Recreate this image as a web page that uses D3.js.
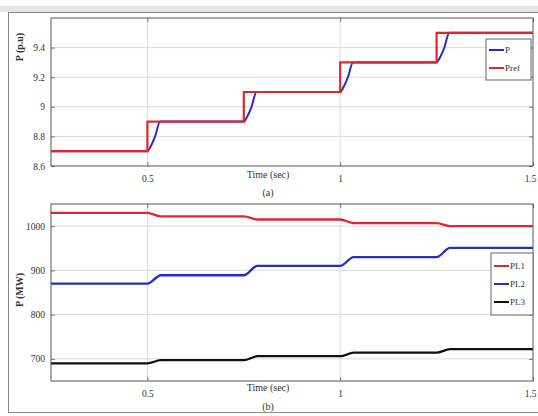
<!DOCTYPE html>
<html><head><meta charset="utf-8">
<script src="https://cdn.jsdelivr.net/npm/d3@7"></script>
<style>body{margin:0;background:#fff}svg{display:block}text{font-family:"Liberation Serif","DejaVu Serif",serif;fill:#333}</style>
</head><body><svg id="c" width="538" height="416"></svg>
<script>
// Top panel (a): per-unit power
const xTicks = [0.5, 1, 1.5];
const xTickLabels = ["0.5", "1", "1.5"];
const topYTicks = [8.6, 8.8, 9, 9.2, 9.4];
const topYTickLabels = ["8.6", "8.8", "9", "9.2", "9.4"];
const pRefPoints = [[0.25,8.7],[0.5,8.7],[0.5,8.9],[0.75,8.9],[0.75,9.1],[1.0,9.1],[1.0,9.3],[1.25,9.3],[1.25,9.5],[1.5,9.5]];
const pPoints = [[0.25,8.7],[0.5,8.7],[0.508,8.73],[0.52,8.8],[0.533,8.9],[0.75,8.9],[0.758,8.93],[0.77,9.0],[0.783,9.1],[0.85,9.1],[0.9,9.1],[1.0,9.1],[1.008,9.13],[1.02,9.2],[1.033,9.3],[1.25,9.3],[1.258,9.33],[1.27,9.4],[1.283,9.5],[1.5,9.5]];
const topLegend = ["P", "Pref"];

// Bottom panel (b): load powers (MW)
const botYTicks = [700, 800, 900, 1000];
const botYTickLabels = ["700", "800", "900", "1000"];
const pl1Points = [[0.25,1030],[0.5,1030],[0.535,1022],[0.75,1022],[0.785,1015],[1.0,1015],[1.035,1007],[1.25,1007],[1.285,1000],[1.5,1000]];
const pl2Points = [[0.25,870],[0.5,870],[0.535,889],[0.75,889],[0.785,910],[1.0,910],[1.035,930],[1.25,930],[1.285,951],[1.5,951]];
const pl3Points = [[0.25,690],[0.5,690],[0.535,697],[0.75,697],[0.785,706],[1.0,706],[1.035,714],[1.25,714],[1.285,722],[1.5,722]];
const botLegend = ["PL1", "PL2", "PL3"];

const svg = d3.select("#c");
const RED = "#e3262e", BLUE = "#2230c8", BLACK = "#111";

// outer frame
svg.append("rect").attr("x",0).attr("y",6).attr("width",538).attr("height",6).attr("fill","#e6e6e6");
svg.append("rect").attr("x",8.5).attr("y",12.5).attr("width",535).attr("height",400).attr("fill","none").attr("stroke","#888").attr("stroke-width",1);

const x = d3.scaleLinear().domain([0.25,1.5]).range([51,533]);

function panel(yDomain, yRange, yTicks, yLabels, series, legendNames, legendBox, ylab, ylabY, xlabY, capY, cap) {
  const y = d3.scaleLinear().domain(yDomain).range(yRange);
  const g = svg.append("g");
  const [y0, y1] = [yRange[1], yRange[0]];
  g.append("rect").attr("x",51).attr("y",y0).attr("width",482).attr("height",y1-y0).attr("fill","#fff");
  // grid
  g.selectAll(".gx").data(xTicks.filter(t=>t<1.5)).enter().append("line")
    .attr("x1",d=>x(d)).attr("x2",d=>x(d)).attr("y1",y0).attr("y2",y1).attr("stroke","#dcdcdc");
  g.selectAll(".gy").data(yTicks.filter(t=>t>yDomain[0])).enter().append("line")
    .attr("x1",51).attr("x2",533).attr("y1",d=>y(d)).attr("y2",d=>y(d)).attr("stroke","#dcdcdc");
  // axes
  const ax = g.append("g").attr("transform",`translate(0,${y1})`)
    .call(d3.axisBottom(x).tickValues(xTicks).tickFormat((d,i)=>xTickLabels[i]).tickSizeInner(-4).tickSizeOuter(0).tickPadding(9));
  const axT = g.append("g").attr("transform",`translate(0,${y0})`)
    .call(d3.axisTop(x).tickValues(xTicks).tickFormat("").tickSizeInner(-4).tickSizeOuter(0));
  const ay = g.append("g").attr("transform",`translate(51,0)`)
    .call(d3.axisLeft(y).tickValues(yTicks).tickFormat((d,i)=>yLabels[i]).tickSizeInner(-4).tickSizeOuter(0).tickPadding(6));
  const ayR = g.append("g").attr("transform",`translate(533,0)`)
    .call(d3.axisRight(y).tickValues(yTicks).tickFormat("").tickSizeInner(-4).tickSizeOuter(0));
  [ax,axT,ay,ayR].forEach(a=>{a.select(".domain").remove();a.selectAll("line").attr("stroke","#777");a.selectAll("text").attr("font-size",9.5).attr("fill","#444").attr("font-family","Liberation Serif, serif");});
  ax.selectAll(".tick text").filter(d=>d===1.5).attr("text-anchor","end").attr("dx",3);
  // lines
  series.forEach(s=>{
    g.append("path").datum(s.pts).attr("fill","none").attr("stroke",s.color).attr("stroke-width",s.w)
      .attr("d", d3.line().x(d=>x(d[0])).y(d=>y(d[1])).curve(s.curve));
  });
  g.append("rect").attr("x",51).attr("y",y0).attr("width",482).attr("height",y1-y0).attr("fill","none").attr("stroke","#555").attr("stroke-width",1);
  // legend
  const lb = legendBox;
  g.append("rect").attr("x",lb.x).attr("y",lb.y).attr("width",lb.w).attr("height",lb.h).attr("fill","#fff").attr("stroke","#666");
  legendNames.forEach((n,i)=>{
    const yy = lb.y + lb.first + i*lb.step;
    g.append("line").attr("x1",lb.x+3).attr("x2",lb.x+18).attr("y1",yy).attr("y2",yy).attr("stroke",series[i].color).attr("stroke-width",2);
    g.append("text").attr("x",lb.x+19).attr("y",yy+3).attr("font-size",9).text(n);
  });
  // labels
  g.append("text").attr("transform",`translate(23,${ylabY}) rotate(-90)`).attr("text-anchor","middle")
    .attr("font-size",10).attr("font-weight","bold").attr("fill","#222").text(ylab);
  g.append("text").attr("x",268).attr("y",xlabY).attr("text-anchor","middle").attr("font-size",10).attr("fill","#222").text("Time (sec)");
  g.append("text").attr("x",268).attr("y",capY).attr("text-anchor","middle").attr("font-size",10).attr("fill","#222").text(cap);
}

panel([8.6,9.6],[166,18],topYTicks,topYTickLabels,
  [{pts:pPoints,color:BLUE,w:2,curve:d3.curveMonotoneX},{pts:pRefPoints,color:RED,w:2.2,curve:d3.curveLinear}],
  topLegend,{x:486,y:39,w:45,h:41,first:11,step:18},"P (p.u)",47,178,196,"(a)");

panel([650,1050],[381,204],botYTicks,botYTickLabels,
  [{pts:pl1Points,color:RED,w:2.3,curve:d3.curveMonotoneX},{pts:pl2Points,color:BLUE,w:2.3,curve:d3.curveMonotoneX},{pts:pl3Points,color:BLACK,w:2.3,curve:d3.curveMonotoneX}],
  botLegend,{x:491,y:253,w:42,h:62,first:13,step:18},"P (MW)",290,391,410,"(b)");
</script></body></html>
